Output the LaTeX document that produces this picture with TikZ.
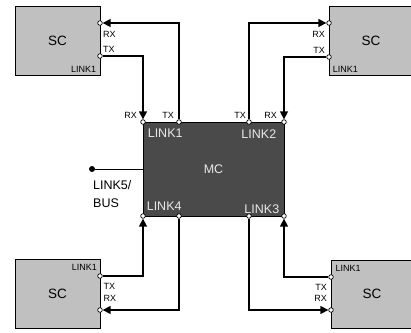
\documentclass[tikz,border=0pt]{standalone}
\usepackage{fontspec}
\setmainfont{Liberation Sans}
\usetikzlibrary{arrows.meta,positioning}
\definecolor{SCgray}{HTML}{C0C0C0}
\definecolor{MCgray}{HTML}{4A4A4A}
\definecolor{MCtext}{HTML}{E8E8E8}

\begin{document}
\begin{tikzpicture}[x=1pt,y=-1pt,>={Triangle[length=8pt,width=8pt]},
  scbox/.style={draw,line width=0.8pt,fill=SCgray,minimum width=85pt,minimum height=69pt,font=\fontsize{13.5}{15}\selectfont},
  mcbox/.style={draw,line width=0.8pt,fill=MCgray,text=MCtext,minimum width=141pt,minimum height=94pt,font=\fontsize{12.5}{14}\selectfont},
  port/.style={circle,draw,fill=white,line width=0.7pt,inner sep=0pt,minimum size=4.6pt,
    path picture={\fill (path picture bounding box.center) circle (0.7pt);}},
  sig/.style={line width=1.4pt},
  tag/.style={inner sep=0pt,font=\fontsize{9}{10}\selectfont},
  mctag/.style={inner sep=0pt,text=MCtext,font=\fontsize{12.5}{14}\selectfont}]
  \useasboundingbox (0,0) rectangle (411,332);
  % boxes
  \node[scbox] (sc1) at (57.5,40.5) {SC};
  \node[scbox,minimum width=84pt] (sc2) at (371,40.5) {SC};
  \node[scbox,minimum width=82pt,minimum height=68pt] (sc3) at (372,294) {SC};
  \node[scbox] (sc4) at (57.5,293.5) {SC};
  \node[mcbox] (mc) at (213.5,169) {MC};
  % ports
  \node[port] (sc1rx) at (100,23) {};
  \node[port] (sc1tx) at (100,56) {};
  \node[port] (sc2rx) at (329,23) {};
  \node[port] (sc2tx) at (329,57) {};
  \node[port] (sc3tx) at (331,277) {};
  \node[port] (sc3rx) at (331,310) {};
  \node[port] (sc4tx) at (100,276) {};
  \node[port] (sc4rx) at (100,310) {};
  \node[port] (m1rx) at (143,122) {};
  \node[port] (m1tx) at (179,122) {};
  \node[port] (m2tx) at (249,122) {};
  \node[port] (m2rx) at (284,122) {};
  \node[port] (m4rx) at (143,216) {};
  \node[port] (m4tx) at (179,216) {};
  \node[port] (m3tx) at (249,216) {};
  \node[port] (m3rx) at (284,216) {};
  % links
  \draw[sig,->] (sc1tx) -| (m1rx);
  \draw[sig,->] (m1tx) |- (sc1rx);
  \draw[sig,->] (m2tx) |- (sc2rx);
  \draw[sig,->] (sc2tx) -| (m2rx);
  \draw[sig,->] (sc3tx) -| (m3rx);
  \draw[sig,->] (m3tx) |- (sc3rx);
  \draw[sig,->] (sc4tx) -| (m4rx);
  \draw[sig,->] (m4tx) |- (sc4rx);
  % bus
  \node[circle,fill,inner sep=0pt,minimum size=6pt] (bus) at (92,169) {};
  \draw[line width=0.9pt] (bus) -- (mc);
  \node[inner sep=0pt,align=left,anchor=north west,font=\fontsize{12.5}{18}\selectfont] (bustag) at (93,180) {LINK5/\\BUS};
  % labels
  \node[tag,below right=6pt and 1pt of sc1rx] {RX};
  \node[tag,above right=1pt and 1pt of sc1tx] {TX};
  \node[tag,anchor=south east] at ([shift={(-4,-3)}]sc1.south east) {LINK1};
  \node[tag,below left=6pt and 2pt of sc2rx] {RX};
  \node[tag,above left=1pt and 2pt of sc2tx] {TX};
  \node[tag,anchor=south west] at ([shift={(4,-3)}]sc2.south west) {LINK1};
  \node[tag,above right=3pt and 2.5pt of sc3tx] {LINK1};
  \node[tag,below left=5.5pt and 2pt of sc3tx] {TX};
  \node[tag,above left=6.5pt and 2pt of sc3rx] {RX};
  \node[tag,above left=3pt and 1pt of sc4tx] {LINK1};
  \node[tag,below right=5.5pt and 1.5pt of sc4tx] {TX};
  \node[tag,above right=6.5pt and 1.5pt of sc4rx] {RX};
  \node[tag,above left=1.5pt and 4pt of m1rx] {RX};
  \node[tag,above left=1.5pt and 3pt of m1tx] {TX};
  \node[tag,above left=1.5pt and 1pt of m2tx] {TX};
  \node[tag,above left=1.5pt and 5pt of m2rx] {RX};
  \node[mctag,anchor=north west] at ([shift={(5,7)}]mc.north west) {LINK1};
  \node[mctag,anchor=north east] at ([shift={(-8,8)}]mc.north east) {LINK2};
  \node[mctag,anchor=south west] at ([shift={(4,-6)}]mc.south west) {LINK4};
  \node[mctag,anchor=south east] at ([shift={(-5,-3)}]mc.south east) {LINK3};
\end{tikzpicture}
\end{document}
